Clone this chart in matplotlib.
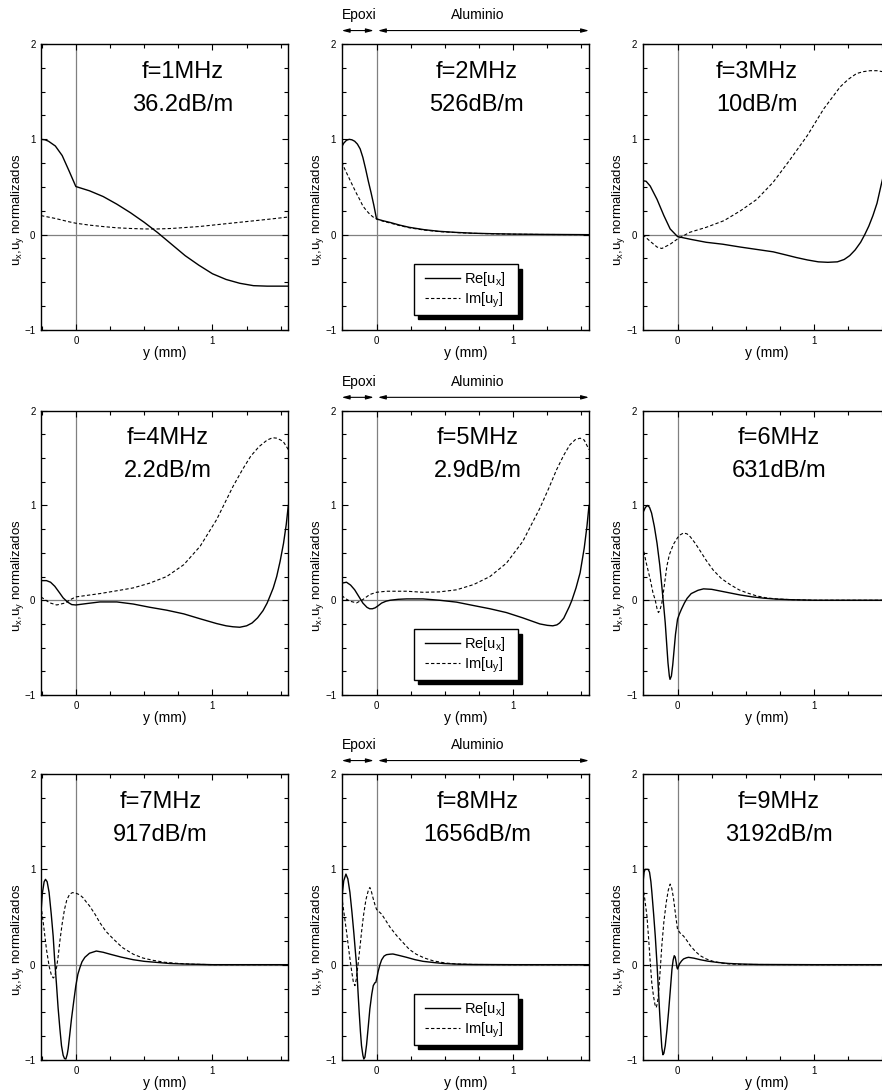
import matplotlib
matplotlib.use("Agg")
import matplotlib.pyplot as plt
from matplotlib.legend_handler import HandlerLine2D
import numpy as np

plt.rcParams['font.family'] = ['Liberation Sans', 'DejaVu Sans']
plt.rcParams['mathtext.default'] = 'regular'

# ---------------- data ----------------
freq_labels = ["f=1MHz", "f=2MHz", "f=3MHz", "f=4MHz", "f=5MHz",
               "f=6MHz", "f=7MHz", "f=8MHz", "f=9MHz"]
atten_labels = ["36.2dB/m", "526dB/m", "10dB/m", "2.2dB/m", "2.9dB/m",
                "631dB/m", "917dB/m", "1656dB/m", "3192dB/m"]
series_labels = ["Re[u$_x$]", "Im[u$_y$]"]
layer_labels = ["Epoxi", "Aluminio"]

# f = 1 MHz
x1_re = [-0.255, -0.225, -0.2, -0.15, -0.1, -0.05, 0.0, 0.1, 0.2, 0.3, 0.4, 0.5, 0.6, 0.7, 0.8, 0.9, 1.0, 1.1, 1.2, 1.3, 1.4, 1.555]
y1_re = [1.0, 0.995, 0.98, 0.93, 0.83, 0.67, 0.505, 0.46, 0.40, 0.32, 0.23, 0.13, 0.02, -0.10, -0.22, -0.32, -0.41, -0.47, -0.51, -0.535, -0.54, -0.54]
x1_im = [-0.255, -0.15, -0.05, 0.0, 0.1, 0.2, 0.3, 0.4, 0.5, 0.6, 0.7, 0.8, 0.9, 1.0, 1.1, 1.2, 1.3, 1.4, 1.555]
y1_im = [0.20, 0.17, 0.135, 0.12, 0.10, 0.085, 0.072, 0.065, 0.06, 0.06, 0.065, 0.075, 0.085, 0.10, 0.115, 0.13, 0.145, 0.16, 0.185]

# f = 2 MHz
x2_re = [-0.255, -0.24, -0.22, -0.2, -0.18, -0.16, -0.14, -0.12, -0.1, -0.08, -0.06, -0.04, -0.02, 0.0, 0.05, 0.1, 0.17, 0.24, 0.35, 0.46, 0.58, 0.71, 0.85, 1.0, 1.2, 1.555]
y2_re = [0.92, 0.96, 0.99, 1.0, 0.995, 0.98, 0.95, 0.90, 0.81, 0.69, 0.56, 0.44, 0.31, 0.165, 0.145, 0.128, 0.10, 0.077, 0.052, 0.035, 0.024, 0.015, 0.01, 0.006, 0.003, 0.0]
x2_im = [-0.255, -0.23, -0.2, -0.17, -0.146, -0.12, -0.1, -0.075, -0.05, -0.025, 0.0, 0.05, 0.1, 0.17, 0.24, 0.35, 0.46, 0.58, 0.71, 0.85, 1.0, 1.2, 1.555]
y2_im = [0.76, 0.68, 0.59, 0.50, 0.43, 0.36, 0.30, 0.255, 0.215, 0.185, 0.165, 0.14, 0.122, 0.095, 0.072, 0.048, 0.032, 0.022, 0.014, 0.009, 0.005, 0.002, 0.0]

# f = 3 MHz
x3_re = [-0.255, -0.23, -0.2, -0.15, -0.1, -0.054, 0.0, 0.1, 0.21, 0.33, 0.46, 0.58, 0.70, 0.80, 0.87, 0.95, 1.03, 1.1, 1.17, 1.22, 1.26, 1.30, 1.34, 1.37, 1.40, 1.43, 1.46, 1.49, 1.52, 1.555]
y3_re = [0.566, 0.56, 0.51, 0.37, 0.20, 0.06, -0.02, -0.05, -0.08, -0.10, -0.13, -0.155, -0.18, -0.215, -0.24, -0.265, -0.285, -0.29, -0.285, -0.26, -0.22, -0.16, -0.08, 0.0, 0.09, 0.2, 0.33, 0.52, 0.70, 0.88]
x3_im = [-0.255, -0.2, -0.15, -0.115, -0.054, 0.0, 0.09, 0.21, 0.34, 0.46, 0.58, 0.70, 0.82, 0.95, 1.07, 1.19, 1.25, 1.31, 1.36, 1.41, 1.46, 1.5, 1.555]
y3_im = [0.0, -0.07, -0.13, -0.145, -0.10, -0.045, 0.025, 0.077, 0.147, 0.25, 0.37, 0.55, 0.78, 1.04, 1.32, 1.55, 1.63, 1.69, 1.71, 1.72, 1.72, 1.71, 1.68]

# f = 4 MHz
x4_re = [-0.255, -0.215, -0.185, -0.154, -0.12, -0.093, -0.06, -0.03, 0.0, 0.08, 0.176, 0.30, 0.42, 0.54, 0.665, 0.79, 0.91, 1.03, 1.1, 1.15, 1.2, 1.25, 1.29, 1.33, 1.37, 1.40, 1.42, 1.445, 1.47, 1.495, 1.52, 1.54, 1.555]
y4_re = [0.207, 0.207, 0.19, 0.147, 0.08, 0.025, -0.02, -0.046, -0.05, -0.035, -0.018, -0.018, -0.04, -0.074, -0.105, -0.144, -0.196, -0.246, -0.27, -0.28, -0.285, -0.27, -0.24, -0.186, -0.11, -0.03, 0.04, 0.13, 0.25, 0.41, 0.6, 0.8, 1.0]
x4_im = [-0.255, -0.22, -0.19, -0.14, -0.08, -0.03, 0.0, 0.176, 0.30, 0.42, 0.54, 0.665, 0.79, 0.91, 1.03, 1.15, 1.22, 1.28, 1.34, 1.40, 1.44, 1.47, 1.5, 1.52, 1.555]
y4_im = [0.035, 0.0, -0.028, -0.05, -0.03, 0.014, 0.035, 0.07, 0.10, 0.13, 0.18, 0.25, 0.375, 0.57, 0.85, 1.2, 1.38, 1.52, 1.62, 1.69, 1.715, 1.71, 1.69, 1.67, 1.59]

# f = 5 MHz
x5_re = [-0.255, -0.22, -0.19, -0.16, -0.13, -0.1, -0.07, -0.05, -0.03, -0.01, 0.01, 0.037, 0.07, 0.1, 0.16, 0.22, 0.34, 0.46, 0.585, 0.71, 0.83, 0.95, 1.07, 1.195, 1.25, 1.29, 1.32, 1.34, 1.37, 1.39, 1.41, 1.43, 1.46, 1.49, 1.52, 1.54, 1.555]
y5_re = [0.18, 0.19, 0.16, 0.11, 0.04, -0.03, -0.075, -0.09, -0.09, -0.08, -0.06, -0.03, -0.01, 0.0, 0.01, 0.014, 0.014, 0.0, -0.02, -0.056, -0.09, -0.13, -0.186, -0.25, -0.265, -0.27, -0.26, -0.24, -0.19, -0.13, -0.07, 0.0, 0.13, 0.29, 0.55, 0.78, 1.0]
x5_im = [-0.255, -0.225, -0.195, -0.146, -0.1, -0.05, 0.0, 0.073, 0.22, 0.34, 0.46, 0.585, 0.71, 0.83, 0.95, 1.07, 1.195, 1.26, 1.317, 1.37, 1.415, 1.455, 1.49, 1.52, 1.555]
y5_im = [0.05, 0.015, -0.01, -0.028, 0.007, 0.06, 0.084, 0.095, 0.095, 0.084, 0.088, 0.11, 0.165, 0.25, 0.39, 0.62, 0.97, 1.18, 1.375, 1.53, 1.64, 1.695, 1.71, 1.69, 1.59]

# f = 6 MHz
x6_re = [-0.255, -0.235, -0.22, -0.205, -0.19, -0.17, -0.15, -0.13, -0.115, -0.1, -0.09, -0.08, -0.07, -0.06, -0.055, -0.045, -0.035, -0.025, -0.015, 0.0, 0.015, 0.03, 0.05, 0.07, 0.1, 0.15, 0.19, 0.25, 0.32, 0.39, 0.46, 0.55, 0.63, 0.72, 0.82, 1.0, 1.555]
y6_re = [0.92, 0.98, 1.0, 0.98, 0.92, 0.78, 0.60, 0.37, 0.147, -0.08, -0.24, -0.45, -0.66, -0.80, -0.835, -0.80, -0.68, -0.52, -0.36, -0.2, -0.14, -0.09, -0.03, 0.02, 0.07, 0.105, 0.12, 0.115, 0.095, 0.075, 0.055, 0.035, 0.022, 0.012, 0.006, 0.0, 0.0]
x6_im = [-0.255, -0.23, -0.2, -0.18, -0.163, -0.15, -0.14, -0.13, -0.115, -0.1, -0.078, -0.06, -0.03, 0.0, 0.02, 0.044, 0.07, 0.093, 0.13, 0.166, 0.21, 0.26, 0.32, 0.385, 0.45, 0.51, 0.58, 0.65, 0.73, 0.82, 1.0, 1.555]
y6_im = [0.57, 0.40, 0.22, 0.08, 0.0, -0.09, -0.13, -0.11, -0.03, 0.12, 0.36, 0.48, 0.59, 0.66, 0.69, 0.71, 0.70, 0.67, 0.60, 0.52, 0.42, 0.32, 0.23, 0.165, 0.11, 0.077, 0.045, 0.025, 0.013, 0.007, 0.0, 0.0]

# f = 7 MHz
x7_re = [-0.255, -0.245, -0.232, -0.222, -0.21, -0.196, -0.18, -0.166, -0.155, -0.142, -0.13, -0.117, -0.105, -0.093, -0.083, -0.073, -0.063, -0.056, -0.045, -0.032, -0.015, 0.0, 0.015, 0.03, 0.045, 0.066, 0.1, 0.15, 0.2, 0.25, 0.33, 0.42, 0.5, 0.59, 0.69, 0.79, 1.0, 1.555]
y7_re = [0.55, 0.75, 0.87, 0.895, 0.87, 0.76, 0.53, 0.30, 0.05, -0.2, -0.45, -0.67, -0.85, -0.95, -0.985, -0.99, -0.94, -0.88, -0.74, -0.57, -0.38, -0.22, -0.1, -0.03, 0.03, 0.077, 0.12, 0.143, 0.13, 0.11, 0.08, 0.052, 0.035, 0.024, 0.012, 0.007, 0.0, 0.0]
x7_im = [-0.255, -0.235, -0.215, -0.195, -0.178, -0.165, -0.154, -0.14, -0.13, -0.115, -0.1, -0.083, -0.066, -0.045, -0.024, 0.0, 0.017, 0.035, 0.054, 0.075, 0.10, 0.14, 0.176, 0.22, 0.274, 0.34, 0.42, 0.49, 0.567, 0.65, 0.74, 0.85, 1.0, 1.555]
y7_im = [0.62, 0.40, 0.16, -0.02, -0.115, -0.14, -0.12, -0.02, 0.08, 0.27, 0.43, 0.58, 0.68, 0.74, 0.756, 0.75, 0.74, 0.725, 0.70, 0.66, 0.617, 0.53, 0.44, 0.35, 0.27, 0.18, 0.11, 0.07, 0.045, 0.025, 0.014, 0.005, 0.0, 0.0]

# f = 8 MHz
x8_re = [-0.255, -0.24, -0.224, -0.21, -0.195, -0.18, -0.166, -0.155, -0.146, -0.135, -0.127, -0.118, -0.11, -0.1, -0.093, -0.085, -0.073, -0.06, -0.049, -0.035, -0.024, -0.012, -0.005, 0.005, 0.012, 0.025, 0.037, 0.055, 0.073, 0.1, 0.12, 0.17, 0.22, 0.28, 0.34, 0.42, 0.49, 0.6, 0.71, 1.0, 1.555]
y8_re = [0.69, 0.88, 0.95, 0.90, 0.76, 0.55, 0.33, 0.14, -0.01, -0.3, -0.5, -0.70, -0.85, -0.95, -0.99, -0.97, -0.84, -0.64, -0.465, -0.31, -0.22, -0.19, -0.185, -0.12, -0.07, 0.0, 0.05, 0.09, 0.105, 0.11, 0.112, 0.095, 0.077, 0.053, 0.035, 0.022, 0.012, 0.005, 0.002, 0.0, 0.0]
x8_im = [-0.255, -0.24, -0.22, -0.2, -0.183, -0.17, -0.158, -0.148, -0.134, -0.12, -0.11, -0.095, -0.078, -0.06, -0.049, -0.04, -0.024, -0.01, 0.0, 0.015, 0.037, 0.06, 0.1, 0.15, 0.195, 0.24, 0.29, 0.35, 0.415, 0.5, 0.585, 0.7, 1.0, 1.555]
y8_im = [0.72, 0.56, 0.35, 0.12, -0.06, -0.18, -0.22, -0.15, 0.02, 0.20, 0.34, 0.52, 0.68, 0.78, 0.81, 0.78, 0.69, 0.62, 0.58, 0.56, 0.53, 0.48, 0.39, 0.30, 0.23, 0.16, 0.11, 0.07, 0.04, 0.018, 0.007, 0.002, 0.0, 0.0]

# f = 9 MHz
x9_re = [-0.255, -0.245, -0.237, -0.215, -0.205, -0.195, -0.188, -0.175, -0.163, -0.15, -0.139, -0.13, -0.122, -0.115, -0.107, -0.1, -0.09, -0.078, -0.066, -0.053, -0.041, -0.032, -0.024, -0.017, -0.01, -0.004, 0.0, 0.007, 0.015, 0.03, 0.044, 0.065, 0.08, 0.12, 0.166, 0.22, 0.29, 0.37, 0.46, 0.6, 1.0, 1.555]
y9_re = [0.83, 0.97, 1.0, 1.0, 0.97, 0.87, 0.76, 0.53, 0.30, 0.0, -0.29, -0.53, -0.72, -0.87, -0.945, -0.93, -0.85, -0.69, -0.5, -0.27, -0.05, 0.05, 0.094, 0.08, 0.024, -0.03, -0.045, -0.02, 0.01, 0.04, 0.06, 0.072, 0.077, 0.068, 0.052, 0.037, 0.024, 0.013, 0.007, 0.002, 0.0, 0.0]
x9_im = [-0.255, -0.24, -0.224, -0.212, -0.2, -0.188, -0.176, -0.165, -0.156, -0.147, -0.139, -0.128, -0.115, -0.1, -0.083, -0.068, -0.054, -0.042, -0.03, -0.015, 0.0, 0.02, 0.044, 0.07, 0.093, 0.13, 0.166, 0.21, 0.26, 0.32, 0.385, 0.5, 1.0, 1.555]
y9_im = [0.82, 0.69, 0.51, 0.28, 0.03, -0.2, -0.33, -0.42, -0.45, -0.40, -0.30, -0.08, 0.2, 0.45, 0.65, 0.78, 0.845, 0.80, 0.70, 0.53, 0.37, 0.33, 0.30, 0.25, 0.20, 0.14, 0.094, 0.06, 0.035, 0.017, 0.007, 0.002, 0.0, 0.0]

# ---------------- layout ----------------
W, H = 882, 1092
fig = plt.figure(figsize=(W / 100, H / 100), dpi=100)

col_left_px = [41, 341.7, 642.7]
ax_w_px = 247.3
row_top_px = [44, 410.7, 774]
ax_h_px = [286, 284.3, 286]

re_x = [x1_re, x2_re, x3_re, x4_re, x5_re, x6_re, x7_re, x8_re, x9_re]
re_y = [y1_re, y2_re, y3_re, y4_re, y5_re, y6_re, y7_re, y8_re, y9_re]
im_x = [x1_im, x2_im, x3_im, x4_im, x5_im, x6_im, x7_im, x8_im, x9_im]
im_y = [y1_im, y2_im, y3_im, y4_im, y5_im, y6_im, y7_im, y8_im, y9_im]

# label centre positions (data x) for the annotation text
text_x = [0.78, 0.73, 0.58, 0.67, 0.74, 0.74, 0.62, 0.74, 0.74]

leg_handler = HandlerLine2D(xpad=0.4)

for i in range(9):
    r, c = divmod(i, 3)
    left = col_left_px[c] / W
    h = ax_h_px[r] / H
    bottom = 1 - (row_top_px[r] + ax_h_px[r]) / H
    ax = fig.add_axes([left, bottom, ax_w_px / W, h])

    ax.axvline(0, color='#808080', lw=0.9, zorder=1)
    ax.axhline(0, color='#808080', lw=0.9, zorder=1)
    l1, = ax.plot(re_x[i], re_y[i], color='black', lw=1.0, ls='-', zorder=3,
                  label=series_labels[0])
    l2, = ax.plot(im_x[i], im_y[i], color='black', lw=0.8, ls=(0, (3, 2)), zorder=3,
                  label=series_labels[1])

    ax.set_xlim(-0.255, 1.555)
    ax.set_ylim(-1, 2)
    ax.set_xticks([0, 1])
    ax.set_xticks(np.arange(-0.25, 1.51, 0.25), minor=True)
    ax.set_yticks([-1, 0, 1, 2])
    ax.set_yticks(np.arange(-1, 2.01, 0.25), minor=True)
    ax.tick_params(which='both', direction='in', top=True, right=True,
                   labelsize=7, width=0.8, pad=4)
    ax.tick_params(which='major', length=4)
    ax.tick_params(which='minor', length=3)
    for s in ax.spines.values():
        s.set_linewidth(1.0)

    ax.set_xlabel('y (mm)', fontsize=10, labelpad=0)
    ax.set_ylabel('u$_x$,u$_y$ normalizados', fontsize=9.5)
    ax.yaxis.set_label_coords(-0.062, 0.42)

    ax.text(text_x[i], 1.71, freq_labels[i], fontsize=17, ha='center', va='center')
    ax.text(text_x[i], 1.36, atten_labels[i], fontsize=17, ha='center', va='center')

    if c == 1:
        trans = ax.get_xaxis_transform()
        ax.annotate('', xy=(-0.255, 1.047), xytext=(-0.02, 1.047),
                    xycoords=trans, textcoords=trans, annotation_clip=False,
                    arrowprops=dict(arrowstyle='<|-|>,head_length=0.45,head_width=0.12',
                                    color='black', lw=0.8, shrinkA=0, shrinkB=0))
        ax.annotate('', xy=(0.01, 1.047), xytext=(1.555, 1.047),
                    xycoords=trans, textcoords=trans, annotation_clip=False,
                    arrowprops=dict(arrowstyle='<|-|>,head_length=0.45,head_width=0.12',
                                    color='black', lw=0.8, shrinkA=0, shrinkB=0))
        ax.text(-0.13, 1.10, layer_labels[0], transform=trans, fontsize=10,
                ha='center', va='center')
        ax.text(0.74, 1.10, layer_labels[1], transform=trans, fontsize=10,
                ha='center', va='center')
        leg = ax.legend(handles=[l1, l2], loc='lower left', mode='expand',
                        bbox_to_anchor=(0.292, 0.052, 0.42, 0.17), borderaxespad=0,
                        fontsize=10.5, handlelength=2.8, handletextpad=0.3,
                        borderpad=0.36, labelspacing=0.2, fancybox=False,
                        framealpha=1, edgecolor='black',
                        handler_map={l1: leg_handler, l2: leg_handler},
                        shadow={'ox': 3, 'oy': -3, 'color': 'black', 'alpha': 1})
        leg.get_frame().set_linewidth(1.0)

fig.savefig('out.png', dpi=100)
